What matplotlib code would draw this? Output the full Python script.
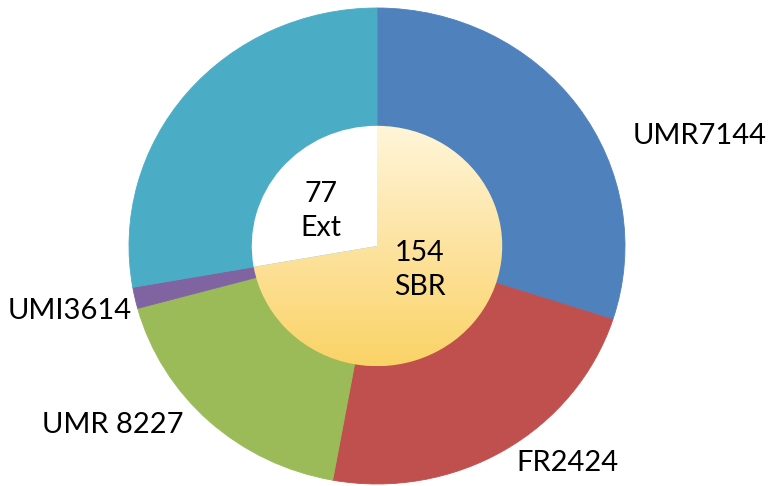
import numpy as np
import matplotlib
matplotlib.use("Agg")
import matplotlib.pyplot as plt
from matplotlib.colors import LinearSegmentedColormap

plt.rcParams['font.family'] = ['Lato', 'DejaVu Sans']

# outer ring, clockwise from 12 o'clock
outer_labels = ['UMR7144', 'FR2424', 'UMR 8227', 'UMI3614', '']
outer_values = [108, 82.3, 64.5, 5.2, 100]
outer_colors = ['#4F81BD', '#C0504D', '#9BBB59', '#8064A2', '#4BACC6']

# inner pie: SBR (units above) and Ext (cyan part)
inner_values = [sum(outer_values[:4]), outer_values[4]]
inner_texts = ['154\nSBR', '77\nExt']

fig = plt.figure(figsize=(7.7, 4.86), dpi=100)
ax = fig.add_axes([0, 0, 1, 1])

outer, _ = ax.pie(outer_values, colors=outer_colors, radius=1.0,
                  startangle=90, counterclock=False,
                  wedgeprops=dict(linewidth=0.6))
for w, c in zip(outer, outer_colors):
    w.set_edgecolor(c)

r_in = 0.505
inner, _ = ax.pie(inner_values, colors=['none', 'white'], radius=r_in,
                  startangle=90, counterclock=False,
                  wedgeprops=dict(linewidth=0))

# vertical gradient for SBR wedge
cmap = LinearSegmentedColormap.from_list('sbr', ['#FFF6DA', '#FDE3A0', '#FAD366'])
grad = np.linspace(0, 1, 256).reshape(-1, 1)
img = ax.imshow(grad, cmap=cmap, extent=(-r_in, r_in, -r_in, r_in),
                origin='upper', aspect='auto', zorder=3)
img.set_clip_path(inner[0])
inner[1].set_zorder(4)

# pixel -> data helpers (ellipse: 248 px wide, 238 px tall radius)
cx, cy, rx, ry = 377, 246, 248, 238
def px(x, y):
    return (x - cx) / rx, (cy - y) / ry

ax.set_xlim(-cx / rx, (770 - cx) / rx)
ax.set_ylim(-(486 - cy) / ry, cy / ry)
ax.set_aspect('auto')
ax.axis('off')

label_pos = [(700, 136), (567, 463), (113, 425), (70, 311)]
for lab, (x, y) in zip(outer_labels, label_pos):
    ax.text(*px(x, y), lab, fontsize=21, ha='center', va='center', zorder=5)

inner_pos = [(420, 270), (321, 211)]
for t, (x, y) in zip(inner_texts, inner_pos):
    ax.text(*px(x, y), t, fontsize=20.5, ha='center', va='center',
            linespacing=1.4, zorder=5)

fig.savefig('out.png', dpi=100)
